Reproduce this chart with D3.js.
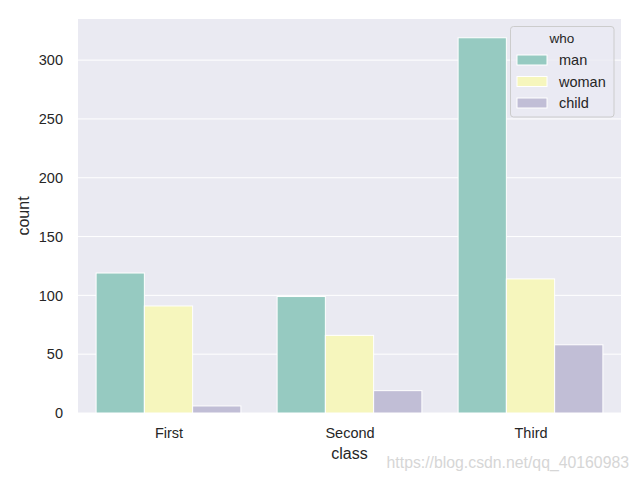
<!DOCTYPE html>
<html><head><meta charset="utf-8">
<script src="https://cdn.jsdelivr.net/npm/d3@7"></script>
<style>body{margin:0;background:#fff}svg{display:block;font-family:"Liberation Sans",Arial,sans-serif}</style>
</head><body>
<svg id="c" width="640" height="480"></svg>
<script>
const classes = ["First", "Second", "Third"];
const who = ["man", "woman", "child"];
const man = [119, 99, 319];
const woman = [91, 66, 114];
const child = [6, 19, 58];
const yTicks = [0, 50, 100, 150, 200, 250, 300];
const colors = ["#96cac1", "#f6f6bd", "#c1bed6"];
const series = [man, woman, child];

const svg = d3.select("#c");
const L = 78, R = 621, T = 19, B = 413;
const unit = (R - L) / classes.length;
const y = d3.scaleLinear().domain([0, 319 * 1.05]).range([B, T]);
const sub = d3.scaleBand().domain(who).range([0, unit * 0.8]);
const TXT = "#262626";

svg.append("rect").attr("x", L).attr("y", T).attr("width", R - L).attr("height", B - T).attr("fill", "#eaeaf2");
svg.append("g").selectAll("line").data(yTicks).join("line")
  .attr("x1", L).attr("x2", R).attr("y1", d => y(d)).attr("y2", d => y(d))
  .attr("stroke", "#fff").attr("stroke-width", 1);

const cx = i => L + unit * (i + 0.5);
series.forEach((s, si) => {
  svg.append("g").selectAll("rect").data(s).join("rect")
    .attr("x", (d, i) => cx(i) - unit * 0.4 + sub(who[si]))
    .attr("y", d => y(d))
    .attr("width", sub.bandwidth())
    .attr("height", d => y(0) - y(d))
    .attr("fill", colors[si]).attr("stroke", "#fff").attr("stroke-width", 1);
});

const yAxis = d3.axisLeft(y).tickValues(yTicks).tickSize(0).tickPadding(15);
const gy = svg.append("g").attr("transform", `translate(${L},0)`).call(yAxis);
gy.select(".domain").remove();
gy.selectAll("text").attr("font-size", 14.5).attr("fill", TXT).attr("font-family", "Liberation Sans, Arial, sans-serif");

const xs = d3.scalePoint().domain(classes).range([cx(0), cx(2)]);
const xAxis = d3.axisBottom(xs).tickSize(0).tickPadding(15);
const gx = svg.append("g").attr("transform", `translate(0,${B})`).call(xAxis);
gx.select(".domain").remove();
gx.selectAll("text").attr("font-size", 14.5).attr("fill", TXT).attr("font-family", "Liberation Sans, Arial, sans-serif");

svg.append("text").attr("x", (L + R) / 2).attr("y", 459).attr("text-anchor", "middle")
  .attr("font-size", 16).attr("fill", TXT).text("class");
svg.append("text").attr("transform", `translate(29,${(T + B) / 2}) rotate(-90)`).attr("text-anchor", "middle")
  .attr("font-size", 16).attr("fill", TXT).text("count");

// legend
const lg = svg.append("g");
lg.append("rect").attr("x", 510.5).attr("y", 26.5).attr("width", 103.5).attr("height", 90.5).attr("rx", 3)
  .attr("fill", "#eaeaf2").attr("fill-opacity", 0.8).attr("stroke", "#cccccc").attr("stroke-width", 1);
lg.append("text").attr("x", 562).attr("y", 42.5).attr("text-anchor", "middle").attr("font-size", 13.5).attr("fill", TXT).text("who");
who.forEach((w, i) => {
  const yy = 60 + i * 21.5;
  lg.append("rect").attr("x", 517).attr("y", yy - 5).attr("width", 30).attr("height", 10)
    .attr("fill", colors[i]).attr("stroke", "#fff").attr("stroke-width", 1);
  lg.append("text").attr("x", 559).attr("y", yy + 5.2).attr("font-size", 14.5).attr("fill", TXT).text(w);
});

svg.append("text").attr("x", 629).attr("y", 468).attr("text-anchor", "end").attr("font-size", 15.8)
  .attr("fill", "#d6d6d6").text("https://blog.csdn.net/qq_40160983");
</script>
</body></html>
